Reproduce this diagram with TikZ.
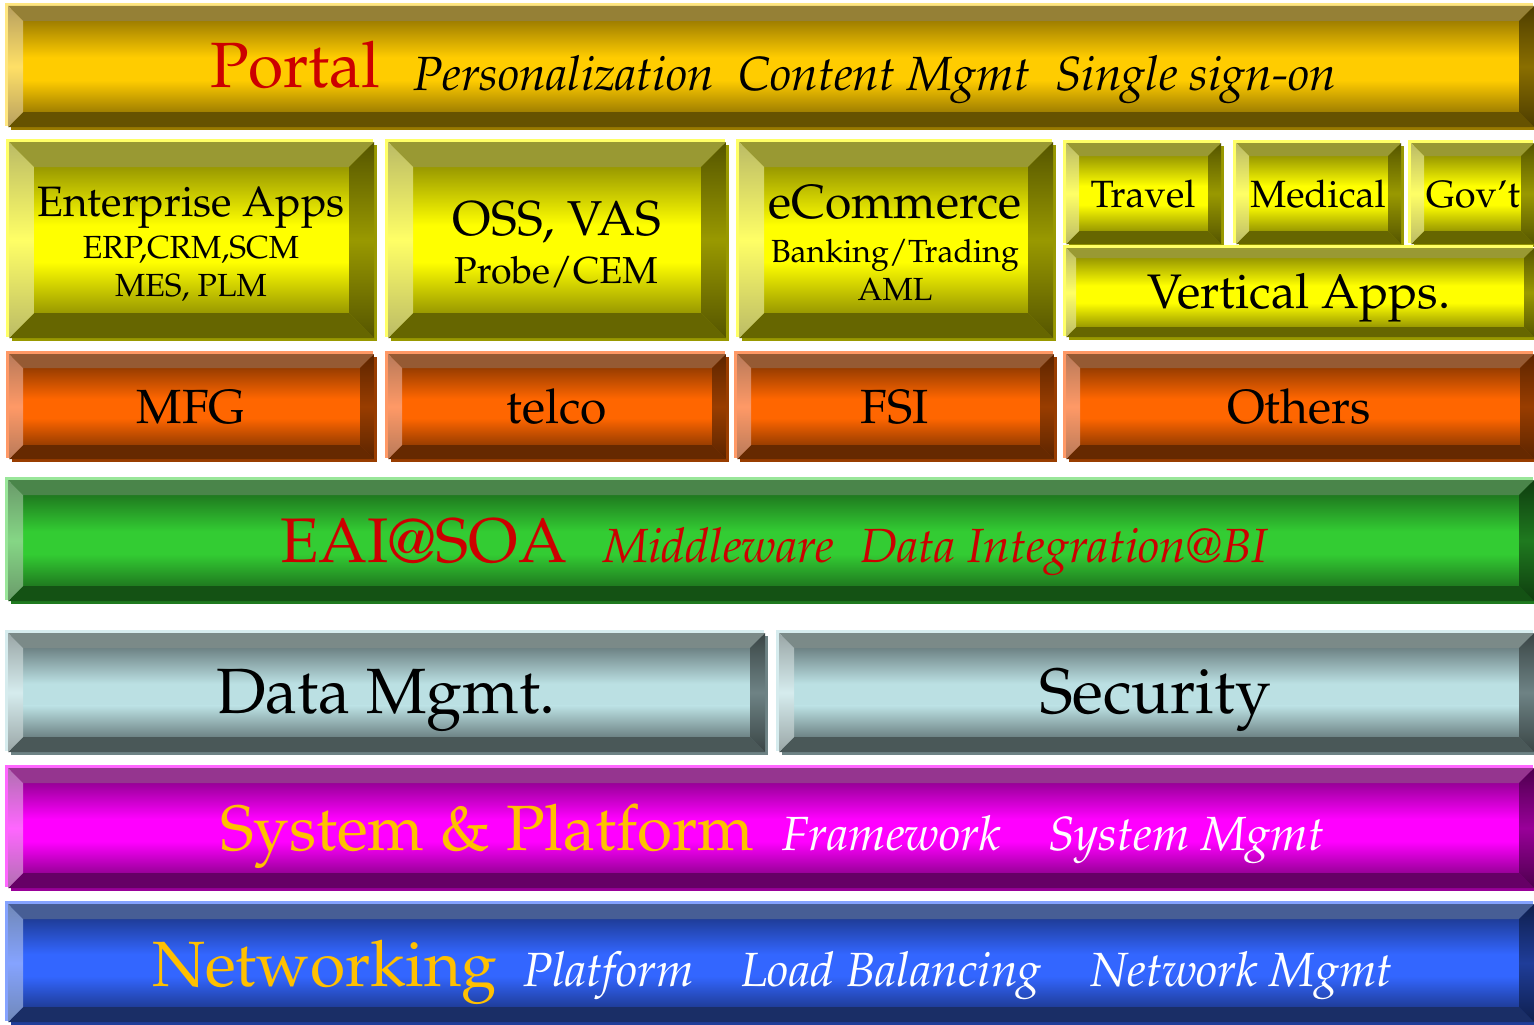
\documentclass[tikz,border=0pt]{standalone}
\usepackage[T1]{fontenc}
\usepackage{mathpazo}

% colour schemes: Face, Edge (face top/bottom), Top/Bot bevels,
% Lite (left bevel), Dark (right bevel), Rim (highlight), Shadow
\definecolor{porFace}{HTML}{FFCC00}\definecolor{porEdge}{HTML}{A07F00}
\definecolor{porTop}{HTML}{958036}\definecolor{porBot}{HTML}{665200}
\definecolor{porLite}{HTML}{FFE066}\definecolor{porLiteEnd}{HTML}{B8A060}
\definecolor{porDark}{HTML}{8A6E00}\definecolor{porDarkEnd}{HTML}{4D3D00}
\definecolor{porRim}{HTML}{FFE680}\definecolor{porShadow}{HTML}{997A00}

\definecolor{yelFace}{HTML}{FFFF00}\definecolor{yelEdge}{HTML}{999900}
\definecolor{yelTop}{HTML}{999933}\definecolor{yelBot}{HTML}{666600}
\definecolor{yelLite}{HTML}{FFFF66}\definecolor{yelLiteEnd}{HTML}{BBBB66}
\definecolor{yelDark}{HTML}{999900}\definecolor{yelDarkEnd}{HTML}{555500}
\definecolor{yelRim}{HTML}{FFFF66}\definecolor{yelShadow}{HTML}{999900}

\definecolor{orgFace}{HTML}{FF6600}\definecolor{orgEdge}{HTML}{993D00}
\definecolor{orgTop}{HTML}{955A33}\definecolor{orgBot}{HTML}{662900}
\definecolor{orgLite}{HTML}{FF9966}\definecolor{orgLiteEnd}{HTML}{B87A5A}
\definecolor{orgDark}{HTML}{993D00}\definecolor{orgDarkEnd}{HTML}{5C2500}
\definecolor{orgRim}{HTML}{FF9966}\definecolor{orgShadow}{HTML}{993D00}

\definecolor{grnFace}{HTML}{33CC33}\definecolor{grnEdge}{HTML}{1F7A1F}
\definecolor{grnTop}{HTML}{4A854A}\definecolor{grnBot}{HTML}{145214}
\definecolor{grnLite}{HTML}{85D685}\definecolor{grnLiteEnd}{HTML}{6A9A6A}
\definecolor{grnDark}{HTML}{1F7A1F}\definecolor{grnDarkEnd}{HTML}{0F3D0F}
\definecolor{grnRim}{HTML}{99E699}\definecolor{grnShadow}{HTML}{1F7A1F}

\definecolor{gryFace}{HTML}{BBE0E3}\definecolor{gryEdge}{HTML}{6E8385}
\definecolor{gryTop}{HTML}{7B8A88}\definecolor{gryBot}{HTML}{4A5858}
\definecolor{gryLite}{HTML}{D6ECEE}\definecolor{gryLiteEnd}{HTML}{9AA6A6}
\definecolor{gryDark}{HTML}{6E8385}\definecolor{gryDarkEnd}{HTML}{3A4545}
\definecolor{gryRim}{HTML}{D6ECEE}\definecolor{gryShadow}{HTML}{6E8385}

\definecolor{magFace}{HTML}{FF00FF}\definecolor{magEdge}{HTML}{990099}
\definecolor{magTop}{HTML}{95358F}\definecolor{magBot}{HTML}{660066}
\definecolor{magLite}{HTML}{FF66FF}\definecolor{magLiteEnd}{HTML}{B070B0}
\definecolor{magDark}{HTML}{990099}\definecolor{magDarkEnd}{HTML}{4D004D}
\definecolor{magRim}{HTML}{FF66FF}\definecolor{magShadow}{HTML}{990099}

\definecolor{bluFace}{HTML}{3366FF}\definecolor{bluEdge}{HTML}{1F3D99}
\definecolor{bluTop}{HTML}{475E95}\definecolor{bluBot}{HTML}{1A2E66}
\definecolor{bluLite}{HTML}{85A3FF}\definecolor{bluLiteEnd}{HTML}{7088B8}
\definecolor{bluDark}{HTML}{1F3D99}\definecolor{bluDarkEnd}{HTML}{0F1F4D}
\definecolor{bluRim}{HTML}{85A3FF}\definecolor{bluShadow}{HTML}{1F3D99}

\definecolor{titleRed}{HTML}{CC0000}
\definecolor{titleGold}{HTML}{FFC000}

\newcommand\fsz[1]{\fontsize{#1}{#1}\selectfont}

% bevelled button: #1 scheme, #2 x1, #3 y1, #4 x2, #5 y2, #6 bevel width
\newcommand\bevbox[6]{%
  \fill[#1Rim] ({#2-3},{#3-3}) rectangle ({#4-1},{#5-1});
  \fill[#1Shadow] ({#2+3},{#3+3}) rectangle ({#4+3},{#5+3});
  \fill[#1Face] ({#2+#6},{#3+#6}) rectangle ({#4-#6},{#5-#6});
  \shade[top color=#1Edge, bottom color=#1Face]
    ({#2+#6},{#3+#6}) rectangle ({#4-#6},{#3+#6+0.4*(#5-#3-2*#6)});
  \shade[top color=#1Face, bottom color=#1Edge]
    ({#2+#6},{#5-#6-0.35*(#5-#3-2*#6)}) rectangle ({#4-#6},{#5-#6});
  \fill[#1Top] (#2,#3) -- (#4,#3) -- ({#4-#6},{#3+#6}) -- ({#2+#6},{#3+#6}) -- cycle;
  \fill[#1Bot] (#2,#5) -- (#4,#5) -- ({#4-#6},{#5-#6}) -- ({#2+#6},{#5-#6}) -- cycle;
  \shade[top color=#1LiteEnd, bottom color=#1LiteEnd, middle color=#1Lite]
    (#2,#3) -- ({#2+#6},{#3+#6}) -- ({#2+#6},{#5-#6}) -- (#2,#5) -- cycle;
  \shade[top color=#1DarkEnd, bottom color=#1DarkEnd, middle color=#1Dark]
    (#4,#3) -- ({#4-#6},{#3+#6}) -- ({#4-#6},{#5-#6}) -- (#4,#5) -- cycle;
}

\begin{document}
\begin{tikzpicture}[x=1pt, y=-1pt,
  lbl/.style={inner sep=0pt, outer sep=0pt},
  big/.style={lbl, font=\fsz{64}},
  ital/.style={lbl, font=\fsz{48}\itshape}]
\useasboundingbox[fill=white] (0,0) rectangle (1534,1025);

% top layer: portal
\bevbox{por}{8}{6}{1534}{127}{15}
\node[big, anchor=base west, text=titleRed] (portal) at (210,88) {Portal};
\node[ital, anchor=base west] (pers) at (413,90) {Personalization};
\node[ital, anchor=base west] (cmgmt) at (738,90) {Content Mgmt};
\node[ital, anchor=base west] (sso) at (1055,90) {Single sign-on};

% applications
\bevbox{yel}{9}{142}{374}{338}{25}
\bevbox{yel}{388}{142}{726}{338}{25}
\bevbox{yel}{739}{142}{1053}{338}{25}
\bevbox{yel}{1066}{143}{1221}{244}{13}
\bevbox{yel}{1236}{143}{1401}{244}{13}
\bevbox{yel}{1411}{143}{1534}{244}{13}
\bevbox{yel}{1066}{248}{1534}{337}{10}

\node[lbl, anchor=base, font=\fsz{42.5}] (ent) at (191,216) {Enterprise Apps};
\node[lbl, anchor=base, font=\fsz{32}] (erp) at (191,258) {ERP,CRM,SCM};
\node[lbl, anchor=base, font=\fsz{32}] (mes) at (191,296) {MES, PLM};
\node[lbl, anchor=base, font=\fsz{49}] (oss) at (557,235) {OSS, VAS};
\node[lbl, anchor=base, font=\fsz{37.5}] (probe) at (556,283) {Probe/CEM};
\node[lbl, anchor=base, font=\fsz{48}] (ecom) at (895,218) {eCommerce};
\node[lbl, anchor=base, font=\fsz{32}] (bank) at (895,262) {Banking/Trading};
\node[lbl, anchor=base, font=\fsz{32}] (aml) at (895,300) {AML};
\node[lbl, anchor=base, font=\fsz{38}] (travel) at (1143,207) {Travel};
\node[lbl, anchor=base, font=\fsz{38}] (medical) at (1318,207) {Medical};
\node[lbl, anchor=base, font=\fsz{38}] (govt) at (1473,207) {Gov't};
\node[lbl, anchor=base, font=\fsz{48.5}] (vert) at (1299,308) {Vertical Apps.};

% industries
\bevbox{org}{9}{354}{374}{459}{14}
\bevbox{org}{388}{354}{726}{459}{14}
\bevbox{org}{737}{354}{1054}{459}{14}
\bevbox{org}{1066}{354}{1534}{459}{14}
\node[lbl, anchor=base, font=\fsz{48}] (mfg) at (191,423) {MFG};
\node[lbl, anchor=base, font=\fsz{48}] (telco) at (557,423) {telco};
\node[lbl, anchor=base, font=\fsz{48}] (fsi) at (895,423) {FSI};
\node[lbl, anchor=base, font=\fsz{48}] (others) at (1299,423) {Others};

% integration
\bevbox{grn}{8}{480}{1534}{601}{15}
\node[big, anchor=base west, text=titleRed, font=\fsz{63}] (eai) at (280,562) {EAI@SOA};
\node[ital, anchor=base west, text=titleRed] (mw) at (603,562) {Middleware};
\node[ital, anchor=base west, text=titleRed] (di) at (860,562) {Data Integration@BI};

% data and security
\bevbox{gry}{8}{633}{765}{752}{15}
\bevbox{gry}{779}{633}{1534}{752}{15}
\node[lbl, anchor=base, font=\fsz{64}] (data) at (386,713) {Data Mgmt.};
\node[lbl, anchor=base, font=\fsz{64}] (sec) at (1155,713) {Security};

% system and platform
\bevbox{mag}{8}{768}{1534}{888}{15}
\node[big, anchor=base west, text=titleGold] (sys) at (220,850) {System \& Platform};
\node[ital, anchor=base west, text=white] (fw) at (782,850) {Framework};
\node[ital, anchor=base west, text=white] (smgmt) at (1048,850) {System Mgmt};

% networking
\bevbox{blu}{8}{904}{1534}{1022}{15}
\node[big, anchor=base west, text=titleGold] (net) at (152,986) {Networking};
\node[ital, anchor=base west, text=white] (plat) at (523,986) {Platform};
\node[ital, anchor=base west, text=white] (lb) at (741,986) {Load Balancing};
\node[ital, anchor=base west, text=white] (nmgmt) at (1090,986) {Network Mgmt};
\end{tikzpicture}
\end{document}
